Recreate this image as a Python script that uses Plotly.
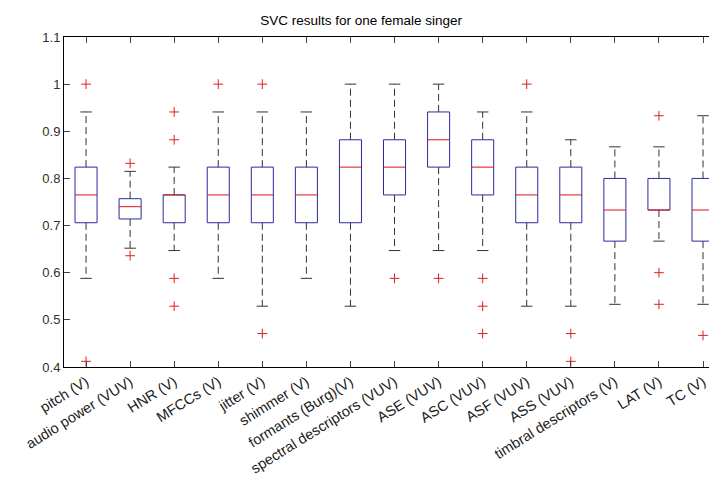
import plotly.graph_objects as go

labels = ['pitch (V)', 'audio power (VUV)', 'HNR (V)', 'MFCCs (V)', 'jitter (V)',
          'shimmer (V)', 'formants (Burg)(V)', 'spectral descriptors (VUV)',
          'ASE (VUV)', 'ASC (VUV)', 'ASF (VUV)', 'ASS (VUV)',
          'timbral descriptors (V)', 'LAT (V)', 'TC (V)']

q1 = [0.706, 0.714, 0.706, 0.706, 0.706, 0.706, 0.706, 0.765, 0.824, 0.765,
      0.706, 0.706, 0.667, 0.733, 0.667]
median = [0.765, 0.740, 0.765, 0.765, 0.765, 0.765, 0.824, 0.824, 0.882, 0.824,
          0.765, 0.765, 0.733, 0.733, 0.733]
q3 = [0.824, 0.757, 0.765, 0.824, 0.824, 0.824, 0.882, 0.882, 0.941, 0.882,
      0.824, 0.824, 0.800, 0.800, 0.800]
lower_whisker = [0.588, 0.652, 0.647, 0.588, 0.529, 0.588, 0.529, 0.647, 0.647, 0.647,
                 0.529, 0.529, 0.533, 0.667, 0.533]
upper_whisker = [0.941, 0.815, 0.824, 0.941, 0.941, 0.941, 1.000, 1.000, 1.000, 0.941,
                 0.941, 0.882, 0.867, 0.867, 0.933]
outliers = [[1.0, 0.412], [0.832, 0.636], [0.941, 0.882, 0.588, 0.529], [1.0],
            [1.0, 0.471], [], [], [0.588], [0.588], [0.588, 0.529, 0.471],
            [1.0], [0.471, 0.412], [], [0.933, 0.600, 0.533], [0.467]]

positions = list(range(1, len(labels) + 1))
box_half = 0.25
cap_half = 0.13

box_x, box_y = [], []
med_x, med_y = [], []
wh_x, wh_y = [], []
cap_x, cap_y = [], []
out_x, out_y = [], []
for i, p in enumerate(positions):
    box_x += [p - box_half, p + box_half, p + box_half, p - box_half, p - box_half, None]
    box_y += [q1[i], q1[i], q3[i], q3[i], q1[i], None]
    med_x += [p - box_half, p + box_half, None]
    med_y += [median[i], median[i], None]
    wh_x += [p, p, None, p, p, None]
    wh_y += [q3[i], upper_whisker[i], None, q1[i], lower_whisker[i], None]
    cap_x += [p - cap_half, p + cap_half, None, p - cap_half, p + cap_half, None]
    cap_y += [upper_whisker[i], upper_whisker[i], None, lower_whisker[i], lower_whisker[i], None]
    for v in outliers[i]:
        out_x.append(p)
        out_y.append(v)

fig = go.Figure()
fig.add_trace(go.Scatter(x=wh_x, y=wh_y, mode='lines',
                         line=dict(color='#333333', width=1, dash='7px,4px')))
fig.add_trace(go.Scatter(x=cap_x, y=cap_y, mode='lines',
                         line=dict(color='#333333', width=1)))
fig.add_trace(go.Scatter(x=box_x, y=box_y, mode='lines',
                         line=dict(color='#2a2aa0', width=1)))
fig.add_trace(go.Scatter(x=med_x, y=med_y, mode='lines',
                         line=dict(color='#e01010', width=1)))
fig.add_trace(go.Scatter(x=out_x, y=out_y, mode='markers',
                         marker=dict(symbol='cross-thin', size=7,
                                     line=dict(color='#e02020', width=1))))

# page body adds an 8px offset, so the figure is 8px smaller and margins shifted
fig.update_layout(
    width=709, height=472,
    margin=dict(l=56, r=0, t=29, b=113),
    paper_bgcolor='white', plot_bgcolor='white',
    showlegend=False,
    font=dict(family='Liberation Sans, Arial, sans-serif', size=13, color='#303030'),
    title=dict(text='SVC results for one female singer', x=0.498, xref='container',
               xanchor='center', y=1 - 12 / 472, yanchor='middle',
               font=dict(size=13.5, color='black')),
)
fig.update_xaxes(range=[0.5, 0.5 + 653 / 44.07], tickvals=positions, ticktext=labels,
                 tickangle=-32, tickfont=dict(size=14.5, color='#202020'),
                 automargin=False,
                 ticks='inside', ticklen=6, tickcolor='#444',
                 showline=True, linecolor='black', linewidth=1, mirror='ticks',
                 showgrid=False, zeroline=False)
fig.update_yaxes(range=[0.4, 1.1], dtick=0.1, tick0=0.4, automargin=False,
                 ticks='inside', ticklen=6, tickcolor='#444',
                 showline=True, linecolor='black', linewidth=1, mirror='ticks',
                 showgrid=False, zeroline=False)

fig.write_html("out.html")
